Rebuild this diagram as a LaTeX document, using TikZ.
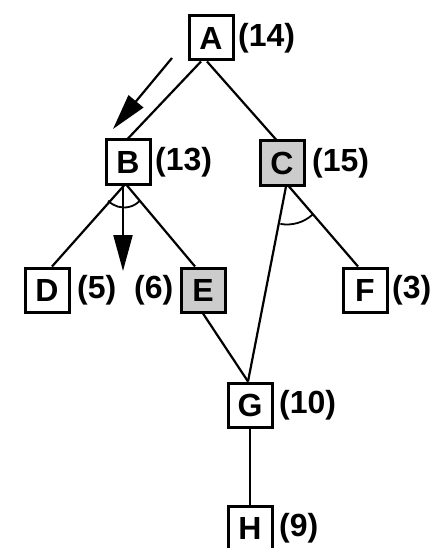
\documentclass[tikz,border=0pt]{standalone}
\usepackage{fontspec}
\setmainfont{Liberation Sans}
\usetikzlibrary{arrows.meta,calc}
\begin{document}
\begin{tikzpicture}[x=1pt,y=-1pt,
  box/.style={draw=black,line width=3pt,minimum width=44pt,minimum height=44pt,inner sep=0pt,font=\fontsize{32}{34}\selectfont\bfseries},
  gbox/.style={box,fill=black!20},
  lab/.style={anchor=west,inner sep=0pt,font=\fontsize{32}{34}\selectfont\bfseries},
  edge/.style={line width=2.2pt},
  arr/.style={line width=2.2pt,-{Triangle[length=36pt,width=19pt]}}]
\useasboundingbox (0,0) rectangle (444,548);
\node[box] (A) at (211,38) {A};
\node[lab] (lA) at (238,38) {(14)};
\node[box] (B) at (128,162) {B};
\node[lab] (lB) at (155,162) {(13)};
\node[gbox] (C) at (282,163) {C};
\node[lab] (lC) at (312,163) {(15)};
\node[box] (D) at (47,290) {D};
\node[lab] (lD) at (77,290) {(5)};
\node[lab] (lE) at (134,290) {(6)};
\node[gbox] (E) at (203,290) {E};
\node[box] (F) at (365,290) {F};
\node[lab] (lF) at (392,290) {(3)};
\node[box] (G) at (250,405) {G};
\node[lab] (lG) at (279,405) {(10)};
\node[box] (H) at (250,528) {H};
\node[lab] (lH) at (279,528) {(9)};
% edges
\draw[edge] ([xshift=-10pt]A.south) -- (B.north);
\draw[edge] ([xshift=-4pt]A.south) -- ([xshift=-6pt]C.north);
\draw[edge] ([xshift=-4pt]B.south) -- ([xshift=5pt]D.north);
\draw[edge] ([xshift=-1pt]B.south) -- ([xshift=-8pt]E.north);
\draw[edge] ([xshift=4pt]C.south) -- ([xshift=-2pt]G.north);
\draw[edge] ([xshift=7pt]C.south) -- ([xshift=-7pt]F.north);
\draw[edge] (E.south) -- ([xshift=-2pt]G.north);
\draw[edge] (G.south) -- (H.north);
% arrows
\coordinate (s1) at (172,58);
\coordinate (t1) at (113,129);
\draw[arr] (s1) -- (t1);
\coordinate (t2) at (123,271);
\draw[arr] ([xshift=-5pt]B.south) -- (t2);
% AND arcs
\coordinate (bc) at ([xshift=-4pt]B.south);
\draw[line width=1.8pt] ($(bc)+(136:22)$) arc[start angle=136,end angle=44,radius=22];
\coordinate (cc) at ([xshift=5pt]C.south);
\draw[line width=1.8pt] ($(cc)+(100:38)$) arc[start angle=100,end angle=48,radius=38];
\end{tikzpicture}
\end{document}
